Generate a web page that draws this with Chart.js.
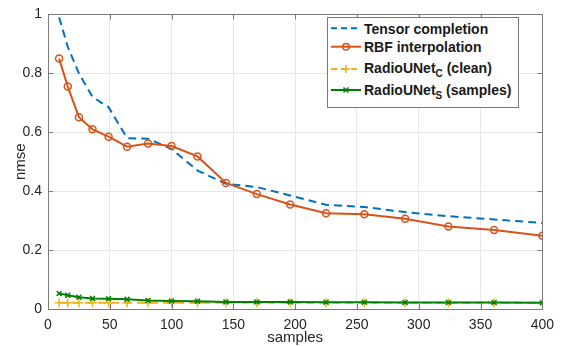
<!DOCTYPE html>
<html>
<head>
<meta charset="utf-8">
<script src="https://cdn.jsdelivr.net/npm/chart.js@4/dist/chart.umd.min.js"></script>
<style>
  html, body { margin: 0; padding: 0; background: #fff; }
  #wrap { position: relative; width: 562px; height: 346px; }
  #legend { position: absolute; left: 327px; top: 17px; }
  #legend text { font-family: "Liberation Sans", Arial, sans-serif; font-weight: bold; font-size: 14px; fill: #1a1a1a; }
</style>
</head>
<body>
<div id="wrap">
  <canvas id="chart-area" width="562" height="346"></canvas>
  <svg id="legend" width="193" height="92">
    <rect x="0.5" y="0.5" width="191" height="90" fill="#fff" stroke="#777" stroke-width="1"/>
    <!-- tensor completion -->
    <line x1="4" y1="11.3" x2="34" y2="11.3" stroke="#0072BD" stroke-width="2" stroke-dasharray="6,4"/>
    <text x="37" y="17">Tensor completion</text>
    <!-- RBF -->
    <line x1="4" y1="29.7" x2="34" y2="29.7" stroke="#D95319" stroke-width="2"/>
    <circle cx="19" cy="29.7" r="3.3" fill="none" stroke="#D95319" stroke-width="1.5"/>
    <text x="37" y="35.3">RBF interpolation</text>
    <!-- RadioUNet C -->
    <line x1="4" y1="52" x2="34" y2="52" stroke="#EDB120" stroke-width="2" stroke-dasharray="6,4"/>
    <line x1="15" y1="52" x2="23" y2="52" stroke="#EDB120" stroke-width="1.5"/>
    <line x1="19" y1="48" x2="19" y2="56" stroke="#EDB120" stroke-width="1.5"/>
    <text x="37" y="55.7">RadioUNet<tspan font-size="10" dy="4">C</tspan><tspan dy="-4"> (clean)</tspan></text>
    <!-- RadioUNet S -->
    <line x1="4" y1="73" x2="34" y2="73" stroke="#008000" stroke-width="2"/>
    <line x1="16.5" y1="70.5" x2="21.5" y2="75.5" stroke="#008000" stroke-width="1.5"/>
    <line x1="16.5" y1="75.5" x2="21.5" y2="70.5" stroke="#008000" stroke-width="1.5"/>
    <text x="37" y="78">RadioUNet<tspan font-size="10" dy="4">S</tspan><tspan dy="-4"> (samples)</tspan></text>
  </svg>
</div>
<script>
// number of samples (3^2 .. 20^2)
var samples = [9, 16, 25, 36, 49, 64, 81, 100, 121, 144, 169, 196, 225, 256, 289, 324, 361, 400];

var tensorCompletion = [0.99, 0.89, 0.80, 0.72, 0.685, 0.58, 0.578, 0.543, 0.47, 0.425,
                        0.414, 0.385, 0.354, 0.346, 0.329, 0.315, 0.304, 0.292];
var rbfInterpolation = [0.85, 0.755, 0.651, 0.61, 0.585, 0.551, 0.562, 0.553, 0.518, 0.428,
                        0.39, 0.355, 0.325, 0.322, 0.306, 0.28, 0.268, 0.249];
var radioUNetC = [0.021, 0.021, 0.021, 0.021, 0.021, 0.021, 0.021, 0.021, 0.021, 0.021,
                  0.021, 0.021, 0.021, 0.021, 0.021, 0.021, 0.021, 0.021];
var radioUNetS = [0.053, 0.047, 0.040, 0.036, 0.035, 0.033, 0.029, 0.027, 0.026, 0.024,
                  0.024, 0.024, 0.023, 0.023, 0.022, 0.022, 0.022, 0.021];

var xTicks = [0, 50, 100, 150, 200, 250, 300, 350, 400];
var yTicks = [0, 0.2, 0.4, 0.6, 0.8, 1];
var yTickLabels = ['0', '0.2', '0.4', '0.6', '0.8', '1'];

var toPoints = function (ys) {
    return samples.map(function (x, i) { return { x: x, y: ys[i] }; });
};

var fontFamily = '"Liberation Sans", Arial, sans-serif';
var axisColor = '#7a7a7a';
var textColor = '#262626';

// box around the axes + inward ticks, like MATLAB
var framePlugin = {
    id: 'frame',
    afterDatasetsDraw: function (chart) {
        var ctx = chart.ctx;
        var a = chart.chartArea;
        var xs = chart.scales.x, ys = chart.scales.y;
        ctx.save();
        ctx.strokeStyle = axisColor;
        ctx.lineWidth = 1;
        ctx.beginPath();
        ctx.rect(Math.round(a.left) + 0.5, Math.round(a.top) + 0.5,
                 Math.round(a.right - a.left), Math.round(a.bottom - a.top));
        ctx.stroke();
        ctx.beginPath();
        xTicks.forEach(function (v) {
            var px = Math.round(xs.getPixelForValue(v)) + 0.5;
            ctx.moveTo(px, a.bottom); ctx.lineTo(px, a.bottom - 5);
            ctx.moveTo(px, a.top); ctx.lineTo(px, a.top + 5);
        });
        yTicks.forEach(function (v) {
            var py = Math.round(ys.getPixelForValue(v)) + 0.5;
            ctx.moveTo(a.left, py); ctx.lineTo(a.left + 5, py);
            ctx.moveTo(a.right, py); ctx.lineTo(a.right - 5, py);
        });
        ctx.stroke();
        ctx.restore();
    }
};

var config = {
    type: 'line',
    data: {
        datasets: [{
                label: 'Tensor completion',
                data: toPoints(tensorCompletion),
                borderColor: '#0072BD',
                borderWidth: 2,
                borderDash: [8, 5],
                pointRadius: 0,
                order: 4
            }, {
                label: 'RBF interpolation',
                data: toPoints(rbfInterpolation),
                borderColor: '#D95319',
                borderWidth: 2,
                pointStyle: 'circle',
                pointRadius: 3.5,
                pointBorderWidth: 1.5,
                pointBackgroundColor: 'rgba(255,255,255,0)',
                order: 3
            }, {
                label: 'RadioUNet_C (clean)',
                data: toPoints(radioUNetC),
                borderColor: '#EDB120',
                borderWidth: 2,
                borderDash: [8, 5],
                pointStyle: 'cross',
                pointRadius: 4.5,
                pointBorderWidth: 1.5,
                order: 2
            }, {
                label: 'RadioUNet_S (samples)',
                data: toPoints(radioUNetS),
                borderColor: '#008000',
                borderWidth: 2,
                pointStyle: 'crossRot',
                pointRadius: 3.5,
                pointBorderWidth: 1.5,
                order: 1
            }]
    },
    options: {
        responsive: false,
        animation: false,
        devicePixelRatio: 1,
        layout: { padding: { top: 12, right: 15, left: 0, bottom: 0 } },
        elements: { line: { tension: 0 } },
        plugins: {
            legend: { display: false },
            tooltip: { enabled: false }
        },
        scales: {
            x: {
                type: 'linear',
                min: 0,
                max: 400,
                afterFit: function (s) { s.height = 37; },
                afterBuildTicks: function (s) { s.ticks = xTicks.map(function (v) { return { value: v }; }); },
                ticks: { padding: 8, color: textColor, font: { family: fontFamily, size: 14 } },
                grid: { color: '#e6e6e6', drawTicks: false },
                border: { display: false },
                title: {
                    display: true, text: 'samples', color: textColor,
                    font: { family: fontFamily, size: 15 }, padding: { top: 0, bottom: -1 }
                }
            },
            y: {
                min: 0,
                max: 1,
                afterFit: function (s) { s.width = 48; },
                afterBuildTicks: function (s) { s.ticks = yTicks.map(function (v) { return { value: v }; }); },
                ticks: {
                    padding: 6, color: textColor, font: { family: fontFamily, size: 14 },
                    callback: function (value, index) { return yTickLabels[index]; }
                },
                grid: { color: '#e6e6e6', drawTicks: false },
                border: { display: false },
                title: {
                    display: true, text: 'nmse', color: textColor,
                    font: { family: fontFamily, size: 15 }, padding: { top: 12, bottom: 0 }
                }
            }
        }
    },
    plugins: [framePlugin]
};

var ctx = document.getElementById('chart-area').getContext('2d');
var myChart = new Chart(ctx, config);
</script>
</body>
</html>
